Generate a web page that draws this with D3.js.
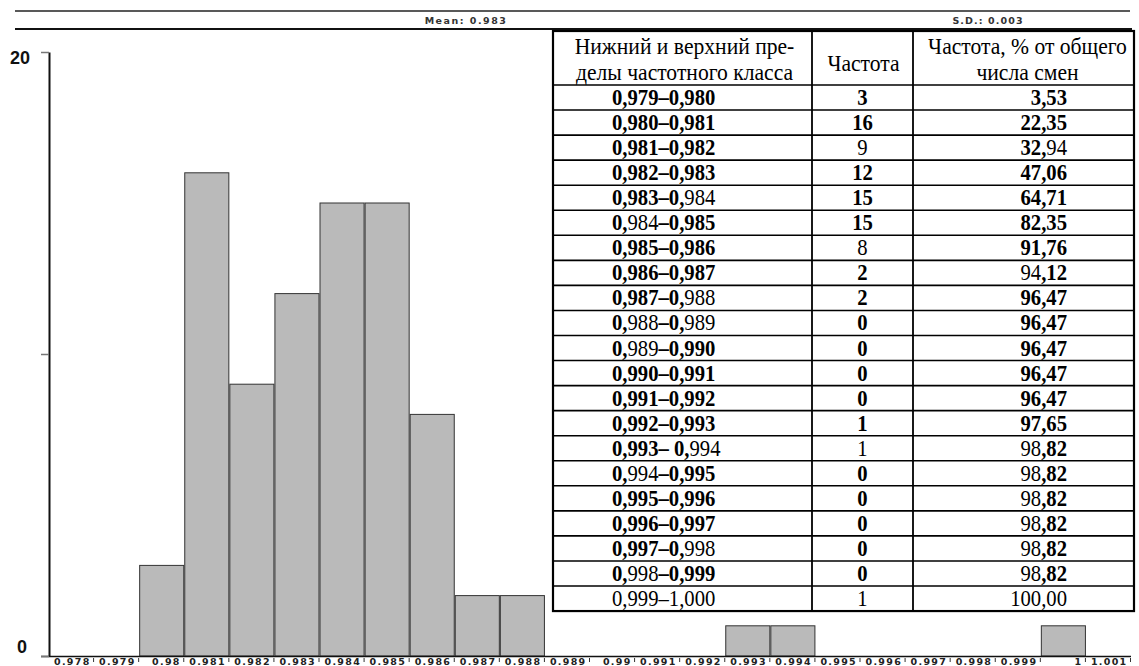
<!DOCTYPE html>
<html><head><meta charset="utf-8">
<script src="https://cdn.jsdelivr.net/npm/d3@7/dist/d3.min.js"></script>
<style>html,body{margin:0;padding:0;background:#fff;}svg{display:block;}</style>
</head><body>
<svg id="chart" width="1139" height="666"></svg>
<script>
// ---------- DATA ----------
const binLabels = ["0.978","0.979","0.98","0.981","0.982","0.983","0.984","0.985","0.986","0.987","0.988","0.989","0.99","0.991","0.992","0.993","0.994","0.995","0.996","0.997","0.998","0.999","1","1.001"];
const classLabels = ["0,979–0,980","0,980–0,981","0,981–0,982","0,982–0,983","0,983–0,984","0,984–0,985","0,985–0,986","0,986–0,987","0,987–0,988","0,988–0,989","0,989–0,990","0,990–0,991","0,991–0,992","0,992–0,993","0,993– 0,994","0,994–0,995","0,995–0,996","0,996–0,997","0,997–0,998","0,998–0,999","0,999–1,000"];
const frequencies = [3,16,9,12,15,15,8,2,2,0,0,0,0,1,1,0,0,0,0,0,1];
const cumPercent = ["3,53","22,35","32,94","47,06","64,71","82,35","91,76","94,12","96,47","96,47","96,47","96,47","96,47","97,65","98,82","98,82","98,82","98,82","98,82","98,82","100,00"];
const yTicks = [0,10,20];
const meanText = "Mean: 0.983";
const sdText = "S.D.: 0.003";
const headerCol1 = ["Нижний и верхний пре-","делы частотного класса"];
const headerCol2 = ["Частота"];
const headerCol3 = ["Частота, % от общего","числа смен"];

// ---------- STYLE (normal-weight character ranges; all else bold) ----------
const normalCol1 = {4:[[8,11]],5:[[2,5]],8:[[8,11]],9:[[2,5],[8,11]],10:[[2,5]],14:[[9,12]],15:[[2,5]],18:[[8,11]],19:[[2,5]],20:[[0,11]]};
const normalCol2 = {2:[[0,1]],6:[[0,1]],14:[[0,1]],20:[[0,1]]};
const normalCol3 = {2:[[3,5]],7:[[0,2]],14:[[0,2]],15:[[0,2]],16:[[0,2]],17:[[0,2]],18:[[0,2]],19:[[0,2]],20:[[0,6]]};

const svg = d3.select("#chart");
const x = d3.scaleLinear().domain([0.977, 1.001]).range([49, 1131]);
const y = d3.scaleLinear().domain([0, 20]).range([656, 52]);

// ---------- header band ----------
svg.append("line").attr("x1",15).attr("x2",1130).attr("y1",11).attr("y2",11).attr("stroke","#222").attr("stroke-width",1.5);
svg.append("line").attr("x1",15).attr("x2",1132).attr("y1",29).attr("y2",29).attr("stroke","#111").attr("stroke-width",2);
svg.append("text").attr("x",466).attr("y",24).attr("text-anchor","middle")
  .attr("font-family","DejaVu Sans").attr("font-weight","bold").attr("font-size",9.5).attr("letter-spacing",1.5).attr("fill","#333").text(meanText);
svg.append("text").attr("x",988).attr("y",24).attr("text-anchor","middle")
  .attr("font-family","DejaVu Sans").attr("font-weight","bold").attr("font-size",9.5).attr("letter-spacing",1.1).attr("fill","#333").text(sdText);

// ---------- bars ----------
const lowerBounds = classLabels.map(s => +s.split(/[–-]/)[0].trim().replace(",", "."));
const bars = lowerBounds.map((lo, i) => ({lo, hi: lo + 0.001, v: frequencies[i]})).filter(d => d.v > 0);
svg.append("g").selectAll("rect").data(bars).join("rect")
  .attr("x", d => x(d.lo) + 0.5)
  .attr("width", d => x(d.hi) - x(d.lo) - 1)
  .attr("y", d => y(d.v))
  .attr("height", d => y(0) - y(d.v))
  .attr("fill", "#bababa").attr("stroke", "#333").attr("stroke-width", 1);

// ---------- x axis ----------
const upperEdges = binLabels.map(s => +s);
const xAxis = d3.axisBottom(x).tickValues(upperEdges).tickSizeInner(4).tickSizeOuter(0)
  .tickFormat((d, i) => binLabels[i]);
const gx = svg.append("g").attr("transform", `translate(0,${y(0)})`).call(xAxis);
gx.select(".domain").attr("d", `M41,0.5H1131`).attr("stroke","#111").attr("stroke-width",1.5);
gx.selectAll(".tick line").attr("y1",2).attr("y2",6).attr("stroke","#333").attr("transform","translate(-1,0)");
gx.selectAll(".tick text").attr("text-anchor","end").attr("x",-4).attr("y",8.5).attr("dy",0)
  .attr("font-family","DejaVu Sans").attr("font-weight","bold").attr("font-size",9.5).attr("letter-spacing",1.3).attr("fill","#222");

// ---------- y axis ----------
const yAxis = d3.axisLeft(y).tickValues(yTicks).tickSizeInner(8).tickSizeOuter(0).tickFormat("");
const gy = svg.append("g").attr("transform", `translate(49,0)`).call(yAxis);
gy.select(".domain").attr("stroke","#111").attr("stroke-width",2);
gy.selectAll(".tick line").attr("stroke","#777").attr("stroke-width",1.5);
svg.append("text").attr("x",30).attr("y",y(20)+12).attr("text-anchor","end")
  .attr("font-family","Liberation Sans").attr("font-weight","bold").attr("font-size",18).attr("fill","#111").text(yTicks[2]);
svg.append("text").attr("x",27).attr("y",y(0)-3).attr("text-anchor","end")
  .attr("font-family","Liberation Sans").attr("font-weight","bold").attr("font-size",18).attr("fill","#111").text(yTicks[0]);

// ---------- table ----------
const tL = 553, tR = 1134, tT = 31, hB = 85, rowH = 25.05;
const c1 = 812, c2 = 913;
const nRows = classLabels.length;
const tB = hB + nRows * rowH;
const tg = svg.append("g");
tg.append("rect").attr("x",tL).attr("y",tT).attr("width",tR-tL).attr("height",tB-tT).attr("fill","#fff").attr("stroke","none");

function addRich(parent, str, ranges, xPos, yPos, anchor, size, sx) {
  const t = parent.append("text")
    .attr("transform", `translate(${xPos},${yPos}) scale(${sx},1)`)
    .attr("text-anchor", anchor).attr("font-family","Liberation Serif").attr("font-size",size).attr("fill","#000");
  const flags = Array.from(str).map(() => "bold");
  (ranges || []).forEach(([a,b]) => { for (let k=a;k<b && k<flags.length;k++) flags[k]="normal"; });
  let seg = "", cur = flags[0];
  const chars = Array.from(str);
  chars.forEach((ch, k) => {
    if (flags[k] !== cur) { t.append("tspan").attr("font-weight",cur).text(seg); seg=""; cur=flags[k]; }
    seg += ch;
  });
  if (seg) t.append("tspan").attr("font-weight",cur).text(seg);
}

const fs = 23.5, sx = 0.88;
classLabels.forEach((lab, i) => {
  const yb = hB + i*rowH + rowH/2 + 7.5;
  addRich(tg, lab, normalCol1[i], 612, yb, "start", fs, sx);
  addRich(tg, String(frequencies[i]), normalCol2[i], (c1+c2)/2, yb, "middle", fs, sx);
  addRich(tg, cumPercent[i], normalCol3[i], 1067, yb, "end", fs, sx);
});

// header text
function headerLines(lines, cx, ys) {
  lines.forEach((ln, k) => {
    tg.append("text").attr("transform", `translate(${cx},${ys[k]}) scale(0.9,1)`)
      .attr("text-anchor","middle").attr("font-family","Liberation Serif").attr("font-size",24).attr("fill","#000").text(ln);
  });
}
headerLines(headerCol1, (tL+c1)/2 + 2, [54, 80]);
headerLines(headerCol2, (c1+c2)/2 + 1, [71]);
headerLines(headerCol3, (c2+tR)/2 + 4, [54, 80]);

// grid lines
for (let i = 0; i <= nRows; i++) {
  const yy = hB + i*rowH;
  tg.append("line").attr("x1",tL).attr("x2",tR).attr("y1",yy).attr("y2",yy).attr("stroke","#000").attr("stroke-width",1.6);
}
[c1, c2].forEach(cx => tg.append("line").attr("x1",cx).attr("x2",cx).attr("y1",tT).attr("y2",tB).attr("stroke","#000").attr("stroke-width",1.8));
tg.append("rect").attr("x",tL).attr("y",tT).attr("width",tR-tL).attr("height",tB-tT).attr("fill","none").attr("stroke","#000").attr("stroke-width",2.2);
</script>
</body></html>
